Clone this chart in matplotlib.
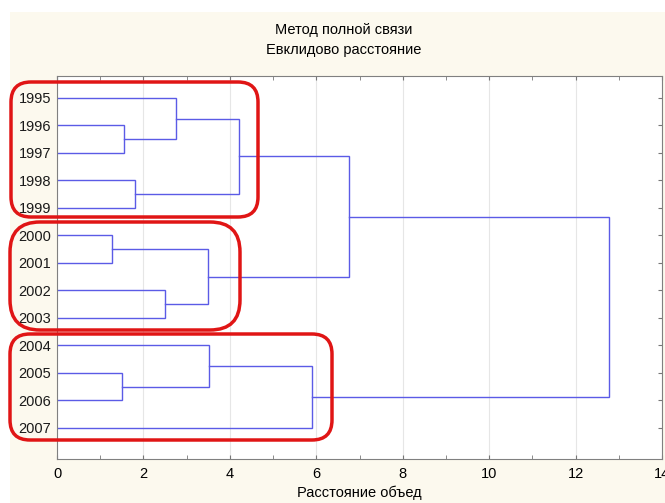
import matplotlib
matplotlib.use("Agg")
import matplotlib.pyplot as plt
from matplotlib.patches import FancyBboxPatch, Rectangle
from matplotlib.transforms import IdentityTransform
from matplotlib.ticker import MultipleLocator

"""Data"""
labels = ["1995", "1996", "1997", "1998", "1999", "2000", "2001",
          "2002", "2003", "2004", "2005", "2006", "2007"]
# merges: (child a, child b, linkage distance); ids >= len(labels) are earlier clusters
merge_a = [1, 0, 3, 14, 5, 7, 17, 16, 10, 9, 22, 20]
merge_b = [2, 13, 4, 15, 6, 8, 18, 19, 11, 21, 12, 23]
merge_h = [1.55, 2.76, 1.81, 4.20, 1.27, 2.50, 3.50, 6.75, 1.50, 3.52, 5.89, 12.77]

title1 = "Метод полной связи"
title2 = "Евклидово расстояние"
xlab = "Расстояние объед"

"""Plot"""
W, H = 665, 503
fig = plt.figure(figsize=(W / 100, H / 100), dpi=100, facecolor="white")
plt.rcParams['font.family'] = ['Liberation Sans', 'DejaVu Sans']

# cream panel behind everything
fig.patches.append(Rectangle((10 / W, 0), 1, 1 - 12 / H, transform=fig.transFigure,
                             facecolor="#fcf9ee", edgecolor="none", zorder=-5))

ax = fig.add_axes([57 / W, (H - 459) / H, (662 - 57) / W, (459 - 76) / H])
ax.set_facecolor("white")

n = len(labels)
pos = {i: float(i) for i in range(n)}
hgt = {i: 0.0 for i in range(n)}
line_col = "#5b5be6"
for k, (a, b, h) in enumerate(zip(merge_a, merge_b, merge_h)):
    ax.plot([hgt[a], h, h, hgt[b]], [pos[a], pos[a], pos[b], pos[b]],
            color=line_col, lw=1.0, solid_joinstyle="miter")
    pos[n + k] = (pos[a] + pos[b]) / 2
    hgt[n + k] = h

ax.set_xlim(0, 14)
ax.set_ylim(13.13, -0.8)
ax.xaxis.set_major_locator(MultipleLocator(2))
ax.xaxis.set_minor_locator(MultipleLocator(1))
ax.set_yticks(range(n))
ax.set_yticklabels(labels, fontsize=10.5, color="#1a1a1a")
ax.tick_params(axis="x", which="both", direction="in", top=True, length=3,
               color="#777777", labelsize=10.5, pad=6)
ax.tick_params(axis="y", left=False, right=True, direction="in", length=3,
               color="#777777", pad=4)
ax.grid(axis="x", which="major", color="#e6e6e6", lw=0.8)
ax.set_axisbelow(True)
for s in ax.spines.values():
    s.set_color("#808080")
ax.set_xlabel(xlab, fontsize=10.5, labelpad=3)

fig.text(344 / W, 1 - 30 / H, title1, ha="center", va="center", fontsize=10.5)
fig.text(344 / W, 1 - 50 / H, title2, ha="center", va="center", fontsize=10.5)

# red hand-drawn group outlines (pixel coords, y from top)
boxes = [(11, 82, 258, 217, 20), (10, 222, 240, 330, 30), (10, 334, 332, 440, 20)]
for x0, y0, x1, y1, r in boxes:
    p = FancyBboxPatch((x0, H - y1), x1 - x0, y1 - y0,
                       boxstyle="round,pad=0,rounding_size=%d" % r,
                       transform=IdentityTransform(), facecolor="none",
                       edgecolor="#e01515", lw=2.5, zorder=10)
    fig.patches.append(p)

fig.savefig("out.png", dpi=100, facecolor=fig.get_facecolor())
print("end of script")
